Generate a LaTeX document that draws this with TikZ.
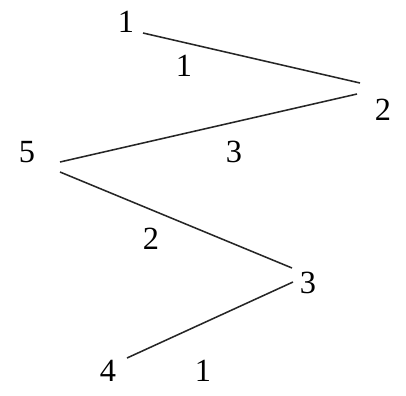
\documentclass[tikz,border=0pt]{standalone}
\usepackage{fontspec}
\setmainfont{Liberation Serif}
\usetikzlibrary{calc}
\tikzset{
  vertex/.style={inner sep=0pt, font=\fontsize{23}{23}\selectfont},
  weight/.style={inner sep=0pt, font=\fontsize{23}{23}\selectfont},
  edge/.style={line width=1.1pt, black!85},
}
\begin{document}
\begin{tikzpicture}[x=0.025cm, y=-0.025cm]
  \useasboundingbox (0,0) rectangle (406,395);

  % Vertices
  \node[vertex] (v1) at (126, 22) {1};
  \node[vertex] (v2) at (383, 110) {2};
  \node[vertex] (v5) at (27, 152) {5};
  \node[vertex] (v3) at (308, 283) {3};
  \node[vertex] (v4) at (108, 371) {4};

  % Edges
  \draw[edge] ($(v1)+(17,11)$) -- ($(v2)+(-23,-27)$);
  \draw[edge] ($(v2)+(-26,-16)$) -- ($(v5)+(33,10)$);
  \draw[edge] ($(v5)+(33,20)$) -- ($(v3)+(-16,-15)$);
  \draw[edge] ($(v3)+(-15,-1)$) -- ($(v4)+(19,-13)$);

  % Weights
  \node[weight] (w12) at (184, 66) {1};
  \node[weight] (w25) at (234, 152) {3};
  \node[weight] (w53) at (151, 239) {2};
  \node[weight] (w34) at (203, 371) {1};
\end{tikzpicture}
\end{document}
